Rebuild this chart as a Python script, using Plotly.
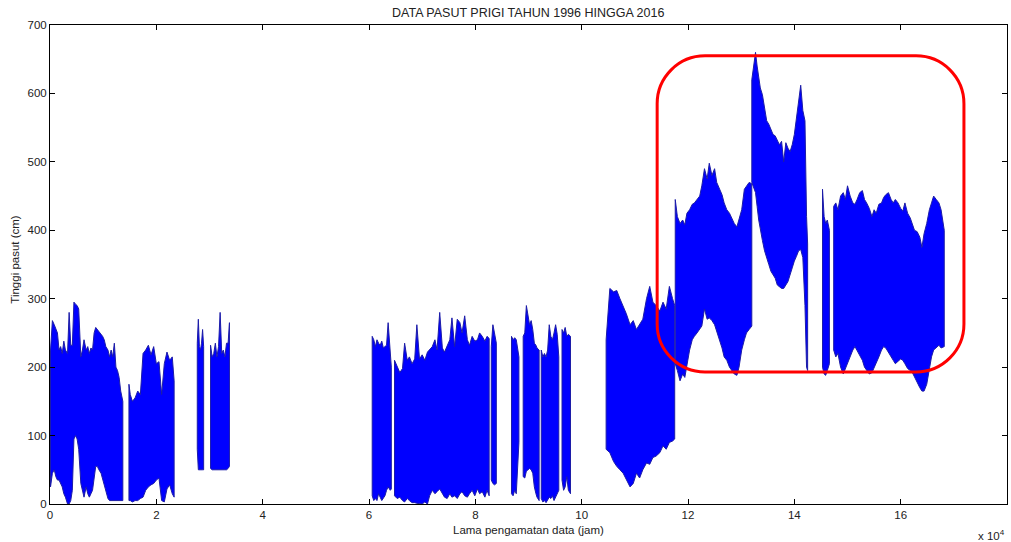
import plotly.graph_objects as go

# ---------------- data (hours, cm) : envelope of tide record per recording segment ----------------
seg_a_x = [100, 450, 800, 1100, 1400, 1700, 2000, 2300, 2600, 2900, 3300, 3600, 3900, 4200, 4500, 4800, 5100, 5400,
           5800, 6100, 6400, 6800, 7100, 7400, 7700, 8000, 8300, 8600, 8900, 9200, 9600, 9900, 10200, 10500, 10900,
           11200, 11500, 11800, 12100, 12400, 12700, 13000, 13300, 13700]
seg_a_hi = [225, 268, 262, 255, 250, 225, 230, 220, 238, 225, 220, 280, 232, 232, 295, 292, 290, 285,
            215, 225, 240, 225, 230, 220, 228, 225, 250, 258, 255, 252, 248, 245, 240, 230, 225,
            215, 225, 215, 235, 200, 195, 185, 165, 150]
seg_a_lo = [25, 45, 50, 40, 35, 35, 30, 25, 15, 10, 0, 0, 5, 20, 95, 100, 95, 80,
            30, 20, 10, 25, 15, 10, 15, 20, 40, 55, 55, 50, 45, 40, 30, 20, 8,
            5, 5, 5, 5, 5, 5, 5, 5, 5]

seg_b_x = [14850, 15100, 15500, 16000, 16500, 17000, 17500, 18000, 18500, 19000, 19500, 20000, 20500, 21000,
           21500, 22000, 22500, 23000, 23350]
seg_b_hi = [175, 160, 150, 155, 165, 160, 220, 225, 232, 218, 230, 205, 208, 160, 205, 222, 210, 215, 180]
seg_b_lo = [5, 5, 3, 5, 5, 8, 10, 20, 25, 28, 30, 35, 38, 5, 3, 22, 28, 15, 10]

seg_c_x = [27700, 27900, 28100, 28300, 28500, 28700, 28900]
seg_c_hi = [235, 270, 230, 225, 235, 255, 230]
seg_c_lo = [80, 50, 50, 50, 50, 50, 50]

seg_d_x = [30200, 30500, 30800, 31100, 31400, 31700, 32000, 32300, 32600, 32900, 33200, 33500, 33750]
seg_d_hi = [232, 215, 220, 235, 215, 230, 280, 220, 225, 215, 235, 235, 265]
seg_d_lo = [52, 50, 50, 50, 50, 50, 50, 50, 50, 50, 50, 52, 55]

seg_e_x = [60600, 60900, 61200, 61500, 61800, 62100, 62400, 62700, 63000, 63300, 63600, 64000, 64200]
seg_e_hi = [245, 240, 230, 240, 235, 232, 238, 228, 230, 232, 265, 210, 200]
seg_e_lo = [12, 5, 8, 5, 15, 10, 5, 8, 12, 20, 25, 20, 22]

seg_f_x = [64800, 65300, 65800, 66300, 66700, 67200, 67600, 68100, 68600, 69000, 69500, 70000, 70500, 71000,
           71400, 71900, 72400, 72800, 73300, 73800, 74200, 74700, 75200, 75600, 76100, 76600, 77100, 77500,
           78000, 78500, 78900, 79400, 79900, 80400, 80800, 81300, 81800, 82200, 82600]
seg_f_hi = [210, 200, 192, 198, 235, 210, 215, 205, 212, 262, 212, 218, 210, 222, 225, 230, 240, 225, 280, 228,
            222, 232, 240, 272, 230, 270, 265, 250, 275, 240, 232, 245, 238, 240, 250, 245, 238, 245, 242]
seg_f_lo = [12, 8, 10, 5, 3, 8, 5, 2, 2, 1, 0, 0, 3, 0, 12, 20, 15, 18, 22, 15,
            10, 8, 15, 10, 12, 8, 15, 18, 12, 10, 15, 20, 12, 22, 15, 18, 10, 20, 12]

seg_g_x = [83000, 83300, 83600, 83950]
seg_g_hi = [230, 262, 250, 235]
seg_g_lo = [35, 30, 28, 30]

seg_h_x = [86800, 87100, 87400, 87700, 88200]
seg_h_hi = [245, 240, 243, 240, 215]
seg_h_lo = [15, 12, 20, 15, 90]

seg_i_x = [89000, 89300, 89600, 89900, 90200, 90500, 90800, 91100, 91400, 91600, 92000]
seg_i_hi = [245, 250, 290, 272, 262, 268, 255, 235, 232, 228, 225]
seg_i_lo = [40, 38, 48, 50, 52, 50, 45, 25, 15, 10, 5]

seg_j_x = [92400, 92700, 93000, 93300, 93600, 93900, 94200, 94500, 94800, 95100, 95400, 95700]
seg_j_hi = [225, 215, 220, 215, 225, 262, 245, 240, 250, 262, 248, 215]
seg_j_lo = [8, 3, 5, 2, 5, 10, 8, 12, 5, 10, 15, 20]

seg_k_x = [96300, 96600, 96900, 97200, 97500, 97900]
seg_k_hi = [255, 250, 258, 245, 248, 245]
seg_k_lo = [35, 20, 25, 40, 20, 15]

seg_l_x = [104600, 105300, 106000, 106600, 107200, 107800, 108400, 109100, 109700, 110300, 110900, 111500,
           112200, 112800, 113400, 114000, 114700, 115300, 115900, 116500, 117100, 117500]
seg_l_hi = [240, 315, 310, 312, 300, 290, 278, 262, 268, 255, 262, 270, 300, 318, 295, 290, 282, 295, 285, 318,
            300, 290]
seg_l_lo = [80, 75, 62, 55, 50, 45, 35, 25, 30, 45, 38, 50, 60, 58, 68, 70, 75, 85, 80, 90, 92, 95]

seg_m_x = [117600, 118000, 118500, 119000, 119400, 119800, 120300, 120800, 121200, 121700, 122200, 122600,
           123100, 123600, 124000, 124500, 125000, 125400, 125900, 126400, 126800, 127300, 127800, 128200,
           128700, 129200, 129600, 130100, 130600, 131000, 131500, 132000]
seg_m_hi = [445, 420, 410, 415, 408, 425, 430, 438, 440, 445, 450, 465, 490, 475, 498, 480, 490, 470, 460, 452,
            440, 430, 425, 418, 410, 405, 415, 430, 460, 465, 470, 468]
seg_m_lo = [205, 195, 180, 190, 185, 200, 225, 240, 245, 250, 255, 260, 285, 270, 272, 268, 262, 250, 240, 228,
            215, 210, 200, 195, 190, 188, 200, 225, 240, 250, 255, 260]

seg_n_x = [132000, 132700, 133000, 133300, 133600, 134000, 134400, 134800, 135200, 135600, 136000, 136400,
           136800, 137200, 137600, 138000, 138400, 138800, 139200, 139600, 140000, 140400, 140800, 141200,
           141600, 142000, 142300, 142500]
seg_n_hi = [620, 660, 640, 625, 608, 598, 580, 560, 555, 548, 540, 538, 530, 525, 530, 500, 528, 520, 515, 525,
            540, 565, 590, 612, 575, 560, 420, 380]
seg_n_lo = [470, 455, 435, 415, 400, 385, 370, 360, 350, 340, 335, 330, 320, 318, 315, 315, 320, 325, 335, 345,
            355, 362, 370, 372, 360, 290, 200, 195]

seg_o_x = [145300, 145600, 145900, 146200, 146600]
seg_o_hi = [460, 420, 410, 415, 400]
seg_o_lo = [200, 190, 188, 195, 205]

seg_p_x = [147400, 147800, 148200, 148700, 149200, 149600, 150000, 150500, 151000, 151400, 151800, 152300,
           152800, 153200, 153600, 154100, 154600, 155000, 155400, 155900, 156400, 156800, 157200, 157700,
           158200, 158600, 159000, 159500, 160000, 160400, 160800, 161300, 161800, 162200, 162600, 163100,
           163600, 164000, 164400, 164900, 165400, 165800, 166200, 166700, 167200, 167600, 168200]
seg_p_hi = [435, 440, 430, 450, 455, 445, 465, 450, 440, 438, 445, 455, 458, 445, 440, 432, 420, 430, 425, 438,
            440, 448, 452, 455, 445, 440, 445, 440, 432, 428, 440, 425, 418, 410, 400, 398, 390, 375, 395, 410,
            430, 440, 450, 445, 440, 430, 400]
seg_p_lo = [225, 215, 220, 200, 190, 195, 205, 215, 225, 230, 225, 218, 210, 200, 195, 190, 192, 198, 205, 215,
            225, 230, 228, 220, 215, 210, 205, 208, 212, 210, 205, 198, 195, 192, 185, 178, 170, 165, 165, 175,
            195, 215, 225, 228, 232, 228, 230]

segments = [
    (seg_a_x, seg_a_hi, seg_a_lo), (seg_b_x, seg_b_hi, seg_b_lo), (seg_c_x, seg_c_hi, seg_c_lo),
    (seg_d_x, seg_d_hi, seg_d_lo), (seg_e_x, seg_e_hi, seg_e_lo), (seg_f_x, seg_f_hi, seg_f_lo),
    (seg_g_x, seg_g_hi, seg_g_lo), (seg_h_x, seg_h_hi, seg_h_lo), (seg_i_x, seg_i_hi, seg_i_lo),
    (seg_j_x, seg_j_hi, seg_j_lo), (seg_k_x, seg_k_hi, seg_k_lo), (seg_l_x, seg_l_hi, seg_l_lo),
    (seg_m_x, seg_m_hi, seg_m_lo), (seg_n_x, seg_n_hi, seg_n_lo), (seg_o_x, seg_o_hi, seg_o_lo),
    (seg_p_x, seg_p_hi, seg_p_lo),
]

x_tick_vals = [0, 20000, 40000, 60000, 80000, 100000, 120000, 140000, 160000, 180000]
x_tick_text = ["0", "2", "4", "6", "8", "10", "12", "14", "16", "18"]
y_tick_vals = [0, 100, 200, 300, 400, 500, 600, 700]

# highlighted region (hours, cm)
box_x0, box_x1 = 114200, 171900
box_y0, box_y1 = 193, 655
box_rx, box_ry = 9000, 70

# ---------------- figure ----------------
FONT = "Liberation Sans, Arial, sans-serif"
TXT = "#222222"
BLUE = "#0000ff"
EDGE = "#1c1ca8"
FS = 11.5

fig = go.Figure()
for sx, shi, slo in segments:
    px = list(sx) + list(reversed(sx)) + [sx[0]]
    py = list(shi) + list(reversed(slo)) + [shi[0]]
    fig.add_trace(go.Scatter(x=px, y=py, mode="lines", fill="toself", fillcolor=BLUE,
                             line=dict(color=EDGE, width=1), hoverinfo="skip", showlegend=False))

k = 0.5523
x0, x1, y0, y1, rx, ry = box_x0, box_x1, box_y0, box_y1, box_rx, box_ry
path = (f"M {x0+rx},{y1} L {x1-rx},{y1} "
        f"C {x1-rx+k*rx},{y1} {x1},{y1-ry+k*ry} {x1},{y1-ry} "
        f"L {x1},{y0+ry} "
        f"C {x1},{y0+ry-k*ry} {x1-rx+k*rx},{y0} {x1-rx},{y0} "
        f"L {x0+rx},{y0} "
        f"C {x0+rx-k*rx},{y0} {x0},{y0+ry-k*ry} {x0},{y0+ry} "
        f"L {x0},{y1-ry} "
        f"C {x0},{y1-ry+k*ry} {x0+rx-k*rx},{y1} {x0+rx},{y1} Z")
fig.add_shape(type="path", path=path, xref="x", yref="y",
              line=dict(color="#ff0000", width=3), fillcolor="rgba(0,0,0,0)")

axis_common = dict(showgrid=False, zeroline=False, showline=True, linecolor="#000000", linewidth=1,
                   ticks="inside", ticklen=5, tickwidth=1, tickcolor="#000000", mirror="ticks",
                   automargin=False, tickfont=dict(family=FONT, size=FS, color=TXT))

fig.update_layout(
    width=1011, height=542,
    margin=dict(l=50, r=4, t=25, b=38, autoexpand=False),
    paper_bgcolor="white", plot_bgcolor="white",
    font=dict(family=FONT, size=FS, color=TXT),
    title=dict(text="DATA PASUT PRIGI TAHUN 1996 HINGGA 2016", x=0.5225, xanchor="center",
               y=1 - 13 / 542, yanchor="middle", font=dict(family=FONT, size=12.5, color=TXT)),
    xaxis=dict(range=[0, 180000], tickvals=x_tick_vals, ticktext=x_tick_text, **axis_common),
    yaxis=dict(range=[0, 700], tickvals=y_tick_vals, **axis_common),
    annotations=[
        dict(text="Lama pengamatan data (jam)", xref="paper", yref="paper", x=0.5, y=-26 / 479,
             xanchor="center", yanchor="middle", showarrow=False, font=dict(family=FONT, size=FS, color=TXT)),
        dict(text="Tinggi pasut (cm)", xref="paper", yref="paper", x=-35 / 957, y=0.51, textangle=-90,
             xanchor="center", yanchor="middle", showarrow=False, font=dict(family=FONT, size=FS, color=TXT)),
        dict(text="x 10<sup>4</sup>", xref="paper", yref="paper", x=1.0, y=-31 / 479,
             xanchor="right", yanchor="middle", showarrow=False, font=dict(family=FONT, size=FS, color=TXT)),
    ],
)

page_fix = ("document.documentElement.style.margin='0';document.documentElement.style.padding='0';"
            "document.body.style.margin='0';document.body.style.padding='0';"
            "document.body.style.overflow='hidden';")

fig.write_html("out.html", post_script=page_fix, config={"responsive": False, "displayModeBar": False})
